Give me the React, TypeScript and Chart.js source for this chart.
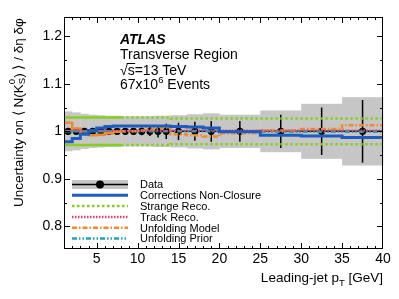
import React, { useEffect, useRef } from "react";
import { Chart, registerables } from "chart.js";

Chart.register(...registerables);

// ---------------- data ----------------
const binEdges = [1, 2, 3, 4, 5, 6, 7, 8, 9, 10, 11, 12, 13, 14, 16, 18, 20, 25, 30, 35, 40];
const binCenters = [1.5, 2.5, 3.5, 4.5, 5.5, 6.5, 7.5, 8.5, 9.5, 10.5, 11.5, 12.5, 13.5, 15, 17, 19, 22.5, 27.5, 32.5, 37.5];
const dataRatio = [1, 1, 1, 1, 1, 1, 1, 1, 1, 1, 1, 1, 1, 1, 1, 1, 1, 1, 1, 1];
const statUnc = [0.002, 0.002, 0.002, 0.002, 0.003, 0.003, 0.004, 0.005, 0.006, 0.008, 0.010, 0.013, 0.016, 0.018, 0.020, 0.022, 0.022, 0.035, 0.050, 0.066];
const totalUnc = [0.042, 0.040, 0.037, 0.035, 0.034, 0.033, 0.033, 0.032, 0.032, 0.032, 0.032, 0.033, 0.033, 0.034, 0.036, 0.038, 0.035, 0.044, 0.058, 0.072];
const nonClosure = [0.978, 0.985, 0.994, 1.002, 1.007, 1.010, 1.011, 1.011, 1.011, 1.011, 1.011, 1.011, 1.011, 1.010, 1.009, 1.007, 0.999, 0.992, 0.990, 0.987];
const strangeReco = [0.029, 0.029, 0.029, 0.029, 0.029, 0.029, 0.029, 0.029, 0.029, 0.029, 0.029, 0.029, 0.029, 0.027, 0.027, 0.027, 0.027, 0.027, 0.027, 0.027];
const trackReco = [1.001, 1.001, 1.001, 1.001, 1.001, 1.001, 1.001, 1.001, 1.001, 1.001, 1.001, 1.001, 1.001, 1.002, 1.002, 1.002, 1.002, 1.002, 1.002, 1.002];
const unfoldingModel = [1.018, 1.006, 0.995, 0.992, 0.993, 0.996, 0.999, 1.000, 1.000, 1.002, 1.004, 1.006, 1.008, 0.994, 0.992, 0.989, 0.996, 1.002, 1.005, 1.013];
const unfoldingPrior = [1.0, 1.0, 1.0, 1.0, 1.0, 1.0, 1.0, 1.0, 1.0, 1.0, 1.0, 1.0, 1.0, 1.0, 1.0, 1.0, 0.999, 0.999, 0.999, 0.999];

const xTicks = [5, 10, 15, 20, 25, 30, 35, 40];
const yTicks = [0.8, 0.9, 1.0, 1.1, 1.2];
const yTickLabels = ["0.8", "0.9", "1", "1.1", "1.2"];
const legendLabels = ["Data", "Corrections Non-Closure", "Strange Reco.", "Track Reco.", "Unfolding Model", "Unfolding Prior"];

// ---------------- styles ----------------
const FONT = "'Liberation Sans', Arial, Helvetica, sans-serif";
const C_BAND = "#c6c6c6";
const C_BLUE = "#1f5cbf";
const C_GREEN = "#86cf1f";
const C_PINK = "#e8406e";
const C_ORANGE = "#f08a30";
const C_TEAL = "#22a3b5";

const DASH_GREEN = [2.5, 2.5];
const DASH_PINK = [1.5, 1.5];
const DASH_ORANGE = [5, 2, 1.5, 2];
const DASH_TEAL = [5, 2, 1.5, 2, 1.5, 2];

// histogram outline: two points per bin (left and right edge)
function histPoints(values: number[]) {
  const pts: { x: number; y: number }[] = [];
  values.forEach((v, i) => {
    pts.push({ x: binEdges[i], y: v });
    pts.push({ x: binEdges[i + 1], y: v });
  });
  return pts;
}

function lowSolid(dash: number[]) {
  return {
    borderDash: (ctx: any) => (ctx.p0.parsed.x < 8 ? [] : dash),
  };
}

type Run = { t: string; s: number; dy?: number; bold?: boolean; italic?: boolean; stack?: { sup: string; sub: string } };

function drawRuns(ctx: CanvasRenderingContext2D, runs: Run[], x: number, y: number, measureOnly = false) {
  let cx = x;
  for (const r of runs) {
    if (r.stack) {
      ctx.font = `${r.s}px ${FONT}`;
      const w1 = ctx.measureText(r.stack.sup).width;
      const w2 = ctx.measureText(r.stack.sub).width;
      if (!measureOnly) {
        ctx.fillText(r.stack.sup, cx, y - r.s * 0.75);
        ctx.fillText(r.stack.sub, cx, y + r.s * 0.3);
      }
      cx += Math.max(w1, w2);
      continue;
    }
    ctx.font = `${r.italic ? "italic " : ""}${r.bold ? "bold " : ""}${r.s}px ${FONT}`;
    if (!measureOnly) ctx.fillText(r.t, cx, y + (r.dy || 0));
    cx += ctx.measureText(r.t).width;
  }
  return cx - x;
}

// total-uncertainty band: one box per bin, positioned through the chart's scales
const bandPlugin = {
  id: "band",
  beforeDatasetsDraw(chart: any) {
    const ctx: CanvasRenderingContext2D = chart.ctx;
    const xs = chart.scales.x;
    const ys = chart.scales.y;
    ctx.save();
    ctx.globalAlpha = 1;
    ctx.globalCompositeOperation = "source-over";
    ctx.fillStyle = C_BAND;
    totalUnc.forEach((u, i) => {
      const x0 = xs.getPixelForValue(binEdges[i]);
      const x1 = xs.getPixelForValue(binEdges[i + 1]);
      const y0 = ys.getPixelForValue(dataRatio[i] + u);
      const y1 = ys.getPixelForValue(dataRatio[i] - u);
      ctx.fillRect(x0, y0, x1 - x0 + 0.3, y1 - y0);
    });
    ctx.restore();
  },
};

const overlayPlugin = {
  id: "overlay",
  afterDraw(chart: any) {
    const ctx: CanvasRenderingContext2D = chart.ctx;
    const { left, right, top, bottom } = chart.chartArea;
    const xs = chart.scales.x;
    const ys = chart.scales.y;
    ctx.save();

    // frame
    ctx.strokeStyle = "#000";
    ctx.lineWidth = 1;
    ctx.setLineDash([]);
    ctx.strokeRect(left + 0.5, top + 0.5, right - left - 1, bottom - top - 1);

    // x ticks (inside, bottom and top)
    ctx.beginPath();
    for (let v = 2; v < 40; v++) {
      const px = Math.round(xs.getPixelForValue(v)) + 0.5;
      const len = v % 5 === 0 ? 6 : 3;
      ctx.moveTo(px, bottom);
      ctx.lineTo(px, bottom - len);
      ctx.moveTo(px, top);
      ctx.lineTo(px, top + len);
    }
    // y ticks (inside, left and right)
    for (let k = 16; k <= 24; k++) {
      const v = k * 0.05;
      const py = Math.round(ys.getPixelForValue(v)) + 0.5;
      const len = k % 2 === 0 ? 6 : 3;
      ctx.moveTo(left, py);
      ctx.lineTo(left + len, py);
      ctx.moveTo(right, py);
      ctx.lineTo(right - len, py);
    }
    ctx.stroke();

    ctx.fillStyle = "#000";
    ctx.textAlign = "left";
    ctx.textBaseline = "alphabetic";

    // ATLAS label block
    ctx.font = `italic bold 14px ${FONT}`;
    ctx.fillText("ATLAS", 120, 44);
    ctx.font = `14px ${FONT}`;
    ctx.fillText("Transverse Region", 120, 59);
    ctx.fillText("\u221As=13 TeV", 120, 74.5);
    const wRoot = ctx.measureText("\u221A").width;
    const wS = ctx.measureText("s").width;
    ctx.beginPath();
    ctx.lineWidth = 1;
    ctx.moveTo(120 + wRoot - 1, 63.5);
    ctx.lineTo(120 + wRoot + wS + 0.5, 63.5);
    ctx.stroke();
    drawRuns(ctx, [
      { t: "67x10", s: 14 },
      { t: "6", s: 9.5, dy: -6 },
      { t: " Events", s: 14 },
    ], 120, 89);

    // x title
    const xRuns: Run[] = [
      { t: "Leading-jet p", s: 13.5 },
      { t: "T", s: 9.5, dy: 3.5 },
      { t: " [GeV]", s: 13.5 },
    ];
    const wx = drawRuns(ctx, xRuns, 0, 0, true);
    drawRuns(ctx, xRuns, right - wx, 282);

    // y title (rotated)
    ctx.save();
    ctx.translate(22.5, 207);
    ctx.rotate(-Math.PI / 2);
    drawRuns(ctx, [
      { t: "Uncertainty on \u27E8 N(K", s: 13.5 },
      { t: "", s: 9.5, stack: { sup: "0", sub: "S" } },
      { t: ") \u27E9 / \u03B4\u03B7 \u03B4\u03C6", s: 13.5 },
    ], 0, 0);
    ctx.restore();

    // legend
    const lx0 = 72, lx1 = 128, tx = 140;
    const ly = (i: number) => 184.5 + i * 10.8;
    ctx.fillStyle = C_BAND;
    ctx.fillRect(lx0, ly(0) - 4.5, lx1 - lx0, 9);
    ctx.strokeStyle = "#000";
    ctx.lineWidth = 1.5;
    ctx.beginPath();
    ctx.moveTo(lx0, ly(0));
    ctx.lineTo(lx1, ly(0));
    ctx.stroke();
    ctx.fillStyle = "#000";
    ctx.beginPath();
    ctx.arc((lx0 + lx1) / 2, ly(0), 4, 0, Math.PI * 2);
    ctx.fill();
    const styles: [string, number, number[]][] = [
      [C_BLUE, 3, []],
      [C_GREEN, 2.5, DASH_GREEN],
      [C_PINK, 2.5, DASH_PINK],
      [C_ORANGE, 2.5, DASH_ORANGE],
      [C_TEAL, 2.5, DASH_TEAL],
    ];
    styles.forEach(([c, w, d], k) => {
      ctx.strokeStyle = c;
      ctx.lineWidth = w;
      ctx.setLineDash(d);
      ctx.beginPath();
      ctx.moveTo(lx0, ly(k + 1));
      ctx.lineTo(lx1, ly(k + 1));
      ctx.stroke();
    });
    ctx.setLineDash([]);
    ctx.fillStyle = "#000";
    ctx.font = `11px ${FONT}`;
    legendLabels.forEach((lab, i) => {
      ctx.fillText(lab, tx, ly(i) + 3.8);
    });

    ctx.restore();
  },
};

const errorBarPlugin = {
  id: "errorBars",
  beforeDatasetDraw(chart: any, args: any) {
    if (args.index !== 0) return;
    const ctx: CanvasRenderingContext2D = chart.ctx;
    const xs = chart.scales.x;
    const ys = chart.scales.y;
    ctx.save();
    ctx.strokeStyle = "#000";
    ctx.setLineDash([]);
    ctx.lineWidth = 1.5;
    ctx.beginPath();
    binCenters.forEach((c, i) => {
      const y = ys.getPixelForValue(dataRatio[i]);
      ctx.moveTo(xs.getPixelForValue(binEdges[i]), y);
      ctx.lineTo(xs.getPixelForValue(binEdges[i + 1]), y);
      const px = xs.getPixelForValue(c);
      ctx.moveTo(px, ys.getPixelForValue(dataRatio[i] + statUnc[i]));
      ctx.lineTo(px, ys.getPixelForValue(dataRatio[i] - statUnc[i]));
    });
    ctx.stroke();
    ctx.restore();
  },
};

export default function App() {
  const ref = useRef<HTMLCanvasElement | null>(null);

  useEffect(() => {
    if (!ref.current) return;
    Chart.defaults.font.family = FONT;
    const lineBase = { pointRadius: 0, fill: false, order: 1, tension: 0 };
    const chart = new Chart(ref.current, {
      type: "line",
      data: {
        datasets: [
          {
            label: "Data",
            data: binCenters.map((x, i) => ({ x, y: dataRatio[i] })),
            showLine: false,
            fill: false,
            pointRadius: 3.6,
            pointBackgroundColor: "#000",
            pointBorderWidth: 0,
            borderColor: "#000",
            order: 5,
          },
          {
            ...lineBase,
            label: "Corrections Non-Closure",
            data: histPoints(nonClosure),
            borderColor: C_BLUE,
            borderWidth: 3,
          },
          {
            ...lineBase,
            label: "Strange Reco. up",
            data: histPoints(strangeReco.map((u) => 1 + u)),
            borderColor: C_GREEN,
            borderWidth: 2.5,
            borderDash: DASH_GREEN,
            segment: lowSolid(DASH_GREEN),
          },
          {
            ...lineBase,
            label: "Strange Reco. down",
            data: histPoints(strangeReco.map((u) => 1 - u)),
            borderColor: C_GREEN,
            borderWidth: 2.5,
            borderDash: DASH_GREEN,
            segment: lowSolid(DASH_GREEN),
          },
          {
            ...lineBase,
            label: "Track Reco.",
            data: histPoints(trackReco),
            borderColor: C_PINK,
            borderWidth: 2,
            borderDash: DASH_PINK,
          },
          {
            ...lineBase,
            label: "Unfolding Model",
            data: histPoints(unfoldingModel),
            borderColor: C_ORANGE,
            borderWidth: 2.5,
            borderDash: DASH_ORANGE,
            segment: lowSolid(DASH_ORANGE),
          },
          {
            ...lineBase,
            label: "Unfolding Prior",
            data: histPoints(unfoldingPrior),
            borderColor: C_TEAL,
            borderWidth: 2.5,
            borderDash: DASH_TEAL,
            segment: lowSolid(DASH_TEAL),
          },
        ],
      } as any,
      options: {
        animation: false,
        responsive: false,
        devicePixelRatio: 1,
        layout: { padding: { top: 17, right: 16, left: 0, bottom: 0 } },
        plugins: { legend: { display: false }, tooltip: { enabled: false }, title: { display: false } },
        scales: {
          x: {
            type: "linear",
            min: 1,
            max: 40,
            grid: { display: false, drawTicks: false },
            border: { display: false },
            ticks: {
              color: "#000",
              font: { size: 14, family: FONT },
              padding: 2,
              maxRotation: 0,
              autoSkip: false,
              callback: (v: any) => String(v),
            },
            afterBuildTicks: (scale: any) => {
              scale.ticks = xTicks.map((v) => ({ value: v }));
            },
            afterFit: (scale: any) => {
              scale.height = 50;
            },
          },
          y: {
            type: "linear",
            min: 0.752,
            max: 1.241,
            grid: { display: false, drawTicks: false },
            border: { display: false },
            ticks: {
              color: "#000",
              font: { size: 14, family: FONT },
              padding: 2,
              autoSkip: false,
              callback: (v: any) => {
                const i = yTicks.findIndex((t) => Math.abs(t - Number(v)) < 1e-6);
                return i >= 0 ? yTickLabels[i] : "";
              },
            },
            afterBuildTicks: (scale: any) => {
              scale.ticks = yTicks.map((v) => ({ value: v }));
            },
            afterFit: (scale: any) => {
              scale.width = 64;
            },
          },
        },
      } as any,
      plugins: [bandPlugin, errorBarPlugin, overlayPlugin],
    });
    return () => chart.destroy();
  }, []);

  return (
    <div style={{ position: "absolute", left: 0, top: 0, width: 399, height: 299, background: "#fff" }}>
      <canvas ref={ref} width={399} height={299} style={{ width: 399, height: 299, display: "block" }} />
    </div>
  );
}
